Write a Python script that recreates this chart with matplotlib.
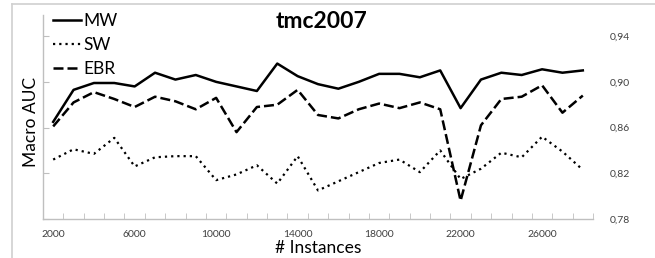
import numpy as np
import matplotlib.pyplot as plt
from matplotlib.lines import Line2D

instances = list(range(2000, 29000, 1000))
mw = [0.865, 0.893, 0.899, 0.899, 0.896, 0.908, 0.902, 0.906, 0.900, 0.896,
      0.892, 0.916, 0.905, 0.898, 0.894, 0.900, 0.907, 0.907, 0.904, 0.910,
      0.877, 0.902, 0.908, 0.906, 0.911, 0.908, 0.910]
sw = [0.832, 0.841, 0.837, 0.851, 0.826, 0.834, 0.835, 0.835, 0.814, 0.819,
      0.827, 0.811, 0.835, 0.805, 0.813, 0.821, 0.829, 0.832, 0.821, 0.840,
      0.815, 0.824, 0.838, 0.834, 0.852, 0.839, 0.823]
ebr = [0.861, 0.882, 0.891, 0.885, 0.878, 0.887, 0.883, 0.876, 0.886, 0.856,
       0.878, 0.880, 0.893, 0.871, 0.868, 0.876, 0.881, 0.877, 0.882, 0.876,
       0.796, 0.862, 0.885, 0.887, 0.897, 0.873, 0.888]
yticks = [0.78, 0.82, 0.86, 0.90, 0.94]
xlabels = [2000, 6000, 10000, 14000, 18000, 22000, 26000]

plt.rcParams['font.family'] = ['Lato', 'DejaVu Sans']
grey = '#bfbfbf'

fig = plt.figure(figsize=(6.55, 2.58), dpi=100)
ax = fig.add_axes([43/655, 39/258, 550/655, 204/258])

ax.plot(instances, mw, color='black', lw=1.8, label='MW')
ax.plot(instances, sw, color='black', lw=1.6, linestyle=(0, (1, 1.8)), label='SW')
ax.plot(instances, ebr, color='black', lw=1.8, linestyle=(0, (4, 1.6)), label='EBR')

ax.set_xlim(1500, 28500)
ax.set_ylim(0.78, 0.9585)

ax.set_xticks(xlabels)
ax.set_xticklabels([str(v) for v in xlabels])
ax.set_xticks(np.arange(1500, 28501, 1000), minor=True)
ax.tick_params(axis='x', which='major', length=0, pad=8, labelsize=7.5, colors='#404040')
ax.tick_params(axis='x', which='minor', direction='in', length=4, color=grey)

ax.set_yticks(yticks)
ax.set_yticklabels([('%.2f' % v).replace('.', ',') for v in yticks])
ax.tick_params(axis='y', direction='in', length=4, color=grey, left=True, right=False,
               labelleft=False, labelright=True, pad=12, labelsize=7.5, labelcolor='#404040')

for s in ['top', 'right']:
    ax.spines[s].set_visible(False)
for s in ['left', 'bottom']:
    ax.spines[s].set_color(grey)
    ax.spines[s].set_linewidth(1)

ax.legend(loc='upper left', bbox_to_anchor=(0.0, 1.06), frameon=False, fontsize=12.5,
          handlelength=1.6, handletextpad=0.1, labelspacing=0.45, borderaxespad=0.2)

fig.text(322/655, 1 - 21/258, 'tmc2007', fontsize=16.5, fontweight='bold', ha='center', va='center')
fig.text(318/655, 1 - 248/258, '# Instances', fontsize=12.5, ha='center', va='center')
fig.text(31/655, 1 - 122/258, 'Macro AUC', fontsize=12.5, rotation=90, ha='center', va='center')

fig.add_artist(Line2D([12/655, 1], [1 - 4/258, 1 - 4/258], color='#d0d0d0', lw=1.2))
fig.add_artist(Line2D([12/655, 12/655], [0, 1 - 4/258], color='#d0d0d0', lw=1.2))

fig.savefig('out.png', dpi=100)
